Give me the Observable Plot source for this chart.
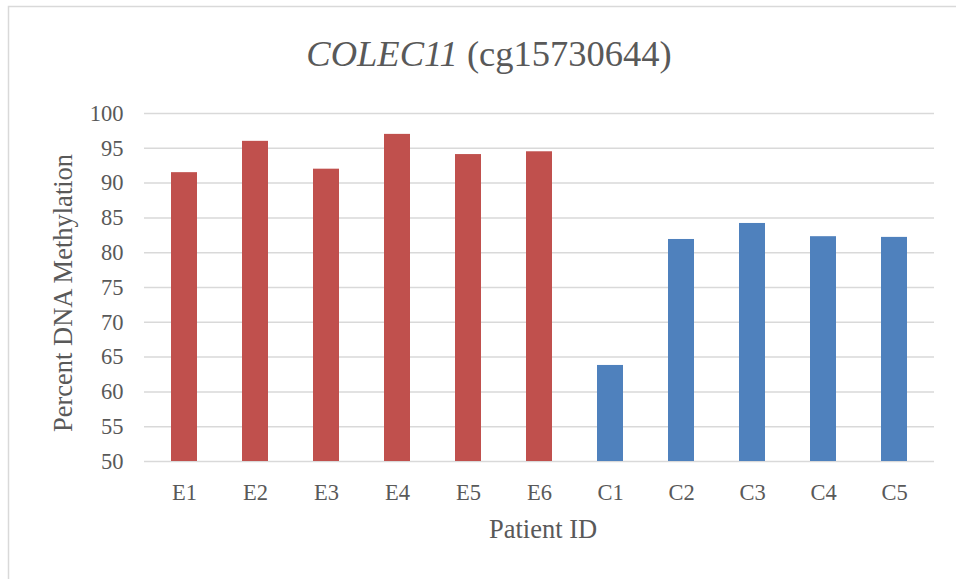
<!DOCTYPE html>
<html>
<head>
<meta charset="utf-8">
<script src="https://cdn.jsdelivr.net/npm/d3@7"></script>
<script src="https://cdn.jsdelivr.net/npm/@observablehq/plot@0.6"></script>
<style>
  html, body { margin: 0; padding: 0; background: #fff; overflow: hidden; }
  #chart { width: 956px; height: 579px; }
</style>
</head>
<body>
<div id="chart"></div>
<script>
const patients = ["E1", "E2", "E3", "E4", "E5", "E6", "C1", "C2", "C3", "C4", "C5"];
const methylation = [91.5, 96.0, 92.0, 97.0, 94.1, 94.5, 63.8, 81.9, 84.2, 82.3, 82.2];
const groups = ["E", "E", "E", "E", "E", "E", "C", "C", "C", "C", "C"];
const yTicks = [50, 55, 60, 65, 70, 75, 80, 85, 90, 95, 100];
const titleItalic = "COLEC11";
const titleRest = " (cg15730644)";
const xLabel = "Patient ID";
const yLabel = "Percent DNA Methylation";

const data = patients.map((p, i) => ({patient: p, value: methylation[i], group: groups[i]}));

const font = "'Liberation Serif', 'Times New Roman', serif";
const textColor = "#595959";

const chart = Plot.plot({
  width: 956,
  height: 579,
  marginLeft: 144,
  marginRight: 22,
  marginTop: 113,
  marginBottom: 118,
  style: {fontFamily: font, fontSize: "22px", color: textColor, background: "#fff"},
  x: {domain: patients, paddingInner: 0.64, paddingOuter: 0.32, label: null},
  y: {domain: [50, 100], label: null},
  color: {domain: ["E", "C"], range: ["#C0504D", "#4F81BD"]},
  marks: [
    Plot.gridY(yTicks, {stroke: "#d9d9d9", strokeOpacity: 1, strokeWidth: 1.5}),
    Plot.barY(data, {x: "patient", y1: 50, y2: "value", fill: "group"}),
    Plot.axisY(yTicks, {tickSize: 0, tickPadding: 21, fill: textColor, fontSize: 22.5, label: null}),
    Plot.axisX({tickSize: 0, tickPadding: 23, fill: textColor, fontSize: 22.5, label: null})
  ]
});

document.getElementById("chart").appendChild(chart);

const svg = d3.select(chart);
svg.append("rect")
  .attr("x", 8.5).attr("y", 6.5)
  .attr("width", 1000).attr("height", 700)
  .attr("fill", "none").attr("stroke", "#d9d9d9").attr("stroke-width", 1.5);

const title = svg.append("text")
  .attr("x", 489).attr("y", 66)
  .attr("text-anchor", "middle")
  .attr("fill", textColor)
  .style("font-family", font)
  .style("font-size", "36.5px");
title.append("tspan").style("font-style", "italic").text(titleItalic);
title.append("tspan").text(titleRest);

svg.append("text")
  .attr("x", 543).attr("y", 538)
  .attr("text-anchor", "middle")
  .attr("fill", textColor)
  .style("font-family", font)
  .style("font-size", "26.5px")
  .text(xLabel);

svg.append("text")
  .attr("transform", "translate(72,293) rotate(-90)")
  .attr("text-anchor", "middle")
  .attr("fill", textColor)
  .style("font-family", font)
  .style("font-size", "26.5px")
  .text(yLabel);
</script>
</body>
</html>
